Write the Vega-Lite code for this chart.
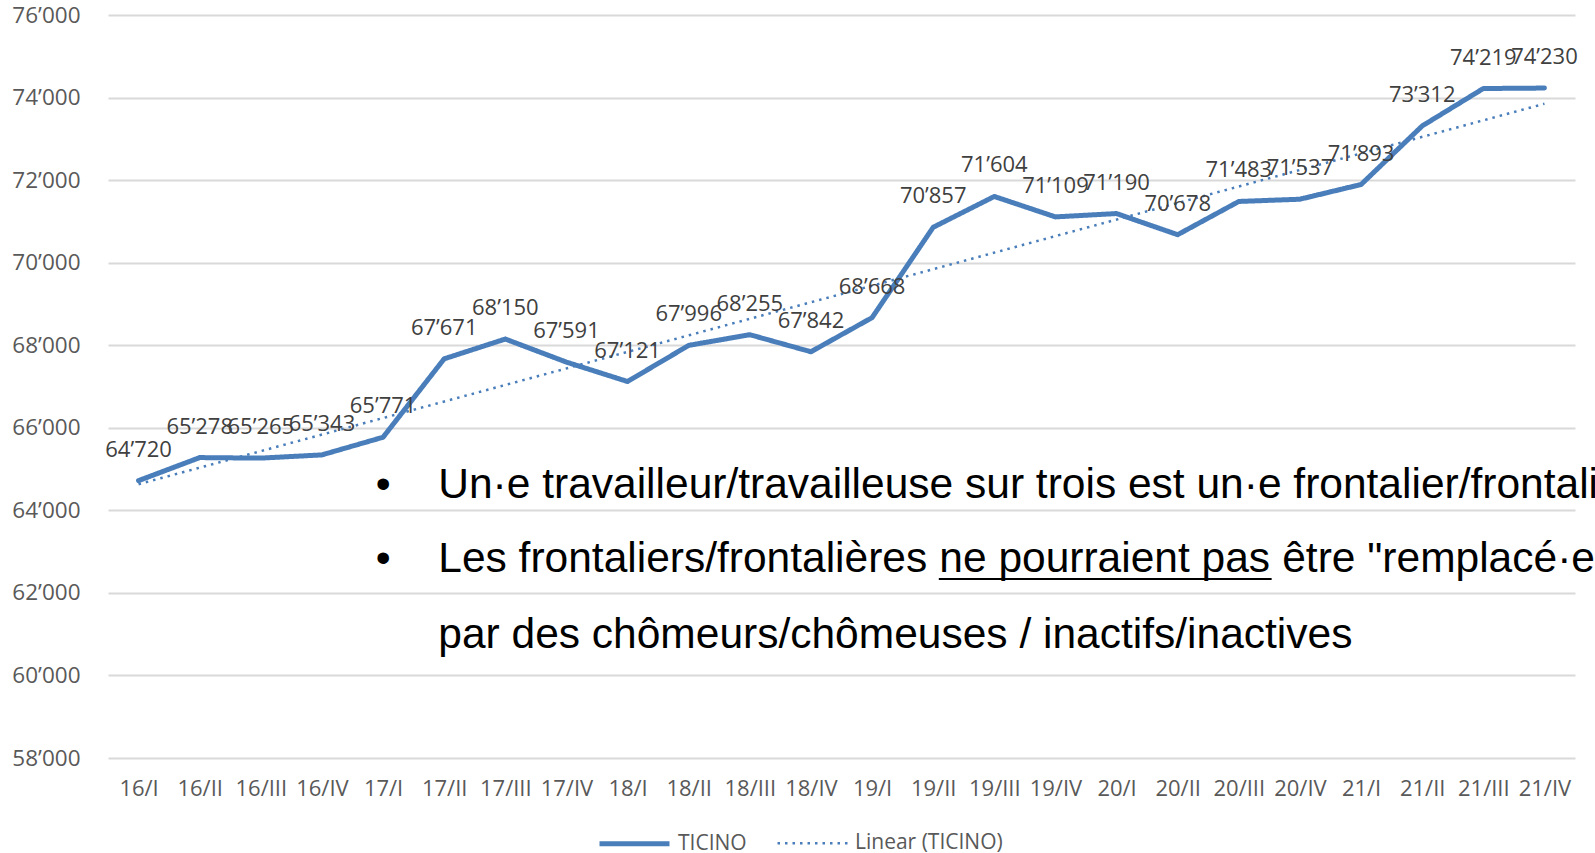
{
  "$schema": "https://vega.github.io/schema/vega-lite/v6.json",
  "width": 1467,
  "height": 743,
  "autosize": {"type": "none"},
  "padding": {"left": 108, "top": 15, "right": 20, "bottom": 95},
  "background": "white",
  "config": {
    "locale": {"number": {"decimal": ".", "thousands": "’", "grouping": [3], "currency": ["", ""]}},
    "view": {"stroke": null},
    "font": "Open Sans"
  },
  "datasets": {
    "series": [
      {"q": "16/I", "v": 64720, "s": "TICINO"},
      {"q": "16/II", "v": 65278, "s": "TICINO"},
      {"q": "16/III", "v": 65265, "s": "TICINO"},
      {"q": "16/IV", "v": 65343, "s": "TICINO"},
      {"q": "17/I", "v": 65771, "s": "TICINO"},
      {"q": "17/II", "v": 67671, "s": "TICINO"},
      {"q": "17/III", "v": 68150, "s": "TICINO"},
      {"q": "17/IV", "v": 67591, "s": "TICINO"},
      {"q": "18/I", "v": 67121, "s": "TICINO"},
      {"q": "18/II", "v": 67996, "s": "TICINO"},
      {"q": "18/III", "v": 68255, "s": "TICINO"},
      {"q": "18/IV", "v": 67842, "s": "TICINO"},
      {"q": "19/I", "v": 68668, "s": "TICINO"},
      {"q": "19/II", "v": 70857, "s": "TICINO"},
      {"q": "19/III", "v": 71604, "s": "TICINO"},
      {"q": "19/IV", "v": 71109, "s": "TICINO"},
      {"q": "20/I", "v": 71190, "s": "TICINO"},
      {"q": "20/II", "v": 70678, "s": "TICINO"},
      {"q": "20/III", "v": 71483, "s": "TICINO"},
      {"q": "20/IV", "v": 71537, "s": "TICINO"},
      {"q": "21/I", "v": 71893, "s": "TICINO"},
      {"q": "21/II", "v": 73312, "s": "TICINO"},
      {"q": "21/III", "v": 74219, "s": "TICINO"},
      {"q": "21/IV", "v": 74230, "s": "TICINO"},
      {"q": "16/I", "v": 64633, "s": "Linear (TICINO)"},
      {"q": "21/IV", "v": 73849, "s": "Linear (TICINO)"}
    ],
    "notes": [
      {"k": "b", "t": "•", "p": 4.0, "v": 64295},
      {"k": "t", "t": "Un·e travailleur/travailleuse sur trois est un·e frontalier/frontalière", "p": 4.903, "v": 64295},
      {"k": "b", "t": "•", "p": 4.0, "v": 62505},
      {"k": "t", "t": "Les frontaliers/frontalières", "p": 4.903, "v": 62505},
      {"k": "t", "t": "ne pourraient pas", "p": 13.1, "v": 62505},
      {"k": "t", "t": "être \"remplacé·e·s\"", "p": 18.71, "v": 62505},
      {"k": "t", "t": "par des chômeurs/chômeuses / inactifs/inactives", "p": 4.903, "v": 60655},
      {"k": "u", "t": "", "p": 13.092, "p2": 18.537, "v": 62335}
    ]
  },
  "resolve": {"scale": {"x": "independent"}},
  "layer": [
    {
      "data": {"name": "series"},
      "encoding": {
        "x": {
          "field": "q", "type": "ordinal", "title": null,
          "scale": {"type": "point", "padding": 0.5, "domain": ["16/I","16/II","16/III","16/IV","17/I","17/II","17/III","17/IV","18/I","18/II","18/III","18/IV","19/I","19/II","19/III","19/IV","20/I","20/II","20/III","20/IV","21/I","21/II","21/III","21/IV"]},
          "axis": {"domain": false, "ticks": false, "grid": false, "labelAngle": 0, "labelFont": "Open Sans", "labelFontSize": 22, "labelColor": "#595959", "labelPadding": 20}
        },
        "y": {
          "field": "v", "type": "quantitative", "title": null,
          "scale": {"domain": [58000, 76000], "nice": false, "zero": false},
          "axis": {"domain": false, "ticks": false, "grid": true, "gridColor": "#d9d9d9", "gridWidth": 2, "values": [58000,60000,62000,64000,66000,68000,70000,72000,74000,76000], "format": ",d", "labelFont": "Open Sans", "labelFontSize": 22.5, "labelColor": "#595959", "labelPadding": 28}
        }
      },
      "layer": [
        {
          "transform": [{"filter": "datum.s === 'TICINO'"}],
          "mark": {"type": "line", "strokeJoin": "round", "strokeCap": "round"},
          "encoding": {
            "color": {"field": "s", "type": "nominal", "scale": {"domain": ["TICINO", "Linear (TICINO)"], "range": ["#4a7ebb", "#4a7ebb"]}, "legend": {"title": null, "orient": "none", "legendX": 489, "legendY": 791, "padding": 0, "direction": "horizontal", "symbolType": "stroke", "symbolSize": 4900, "labelFont": "Open Sans", "labelFontSize": 21, "labelColor": "#595959", "columnPadding": 25, "labelOffset": 6}},
            "strokeDash": {"field": "s", "type": "nominal", "scale": {"domain": ["TICINO", "Linear (TICINO)"], "range": [[1, 0], [2.5, 5]]}, "legend": {"title": null, "orient": "none", "legendX": 489, "legendY": 791, "padding": 0, "direction": "horizontal", "symbolType": "stroke", "symbolSize": 4900, "labelFont": "Open Sans", "labelFontSize": 21, "labelColor": "#595959", "columnPadding": 25, "labelOffset": 6}},
            "strokeWidth": {"field": "s", "type": "nominal", "scale": {"domain": ["TICINO", "Linear (TICINO)"], "range": [5, 2.5]}, "legend": {"title": null, "orient": "none", "legendX": 489, "legendY": 791, "padding": 0, "direction": "horizontal", "symbolType": "stroke", "symbolSize": 4900, "labelFont": "Open Sans", "labelFontSize": 21, "labelColor": "#595959", "columnPadding": 25, "labelOffset": 6}}
          }
        },
        {
          "transform": [{"filter": "datum.s === 'Linear (TICINO)'"}],
          "mark": {"type": "line", "strokeCap": "butt"},
          "encoding": {
            "color": {"field": "s", "type": "nominal"},
            "strokeDash": {"field": "s", "type": "nominal"},
            "strokeWidth": {"field": "s", "type": "nominal"}
          }
        },
        {
          "transform": [{"filter": "datum.s === 'TICINO'"}],
          "mark": {"type": "text", "dy": -31, "baseline": "middle", "align": "center", "font": "Open Sans", "fontSize": 22, "color": "#404040"},
          "encoding": {
            "text": {"field": "v", "type": "quantitative", "format": ",d"}
          }
        }
      ]
    },
    {
      "data": {"name": "notes"},
      "encoding": {
        "x": {"field": "p", "type": "quantitative", "scale": {"domain": [-0.5, 23.5], "nice": false, "zero": false}, "axis": null},
        "y": {"field": "v", "type": "quantitative", "title": null}
      },
      "layer": [
        {
          "transform": [{"filter": "datum.k === 'b'"}],
          "mark": {"type": "text", "align": "center", "baseline": "alphabetic", "font": "Liberation Sans", "fontSize": 42.5, "color": "#000000"},
          "encoding": {"text": {"field": "t"}}
        },
        {
          "transform": [{"filter": "datum.k === 't'"}],
          "mark": {"type": "text", "align": "left", "baseline": "alphabetic", "font": "Liberation Sans", "fontSize": 42.5, "color": "#000000"},
          "encoding": {"text": {"field": "t"}}
        },
        {
          "transform": [{"filter": "datum.k === 'u'"}],
          "mark": {"type": "rule", "color": "#000000", "strokeWidth": 2},
          "encoding": {"x2": {"field": "p2"}}
        }
      ]
    }
  ]
}
